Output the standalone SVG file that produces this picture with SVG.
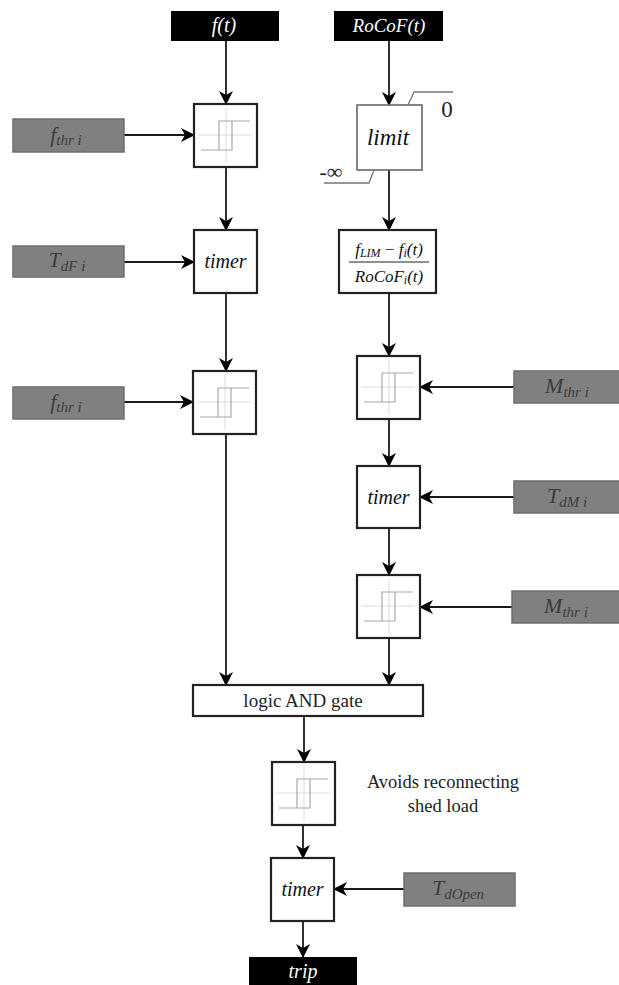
<svg xmlns="http://www.w3.org/2000/svg" width="619" height="985" viewBox="0 0 619 985">
  <defs>
    <style>
      .blk { fill: #000; }
      .blk-t { fill: #fff; font-style: italic; font-size: 20px; text-anchor: middle; }
      .inp { fill: #808080; stroke: #6e6e6e; stroke-width: 1.5; }
      .inp-t { fill: #3c3c3c; font-style: italic; font-size: 22px; text-anchor: middle; }
      .sub { font-size: 15px; }
      .blkbox { fill: #fff; stroke: #222; stroke-width: 2.2; }
      .thin { fill: #fff; stroke: #666; stroke-width: 1.6; }
      .lbl { fill: #111; font-style: italic; font-size: 20px; text-anchor: middle; }
      .plain { fill: #222; font-size: 19px; text-anchor: middle; }
      .ax { stroke: #dcdcdc; stroke-width: 1; fill: none; }
      .loop { stroke: #a8a8a8; stroke-width: 1.2; fill: none; }
      .wire { stroke: #1a1a1a; stroke-width: 1.8; fill: none; }
      .lim { stroke: #777; stroke-width: 1.3; fill: none; }
    </style>
    <marker id="arrow" viewBox="0 0 14 14" markerWidth="14" markerHeight="14" refX="13" refY="7" orient="auto" markerUnits="userSpaceOnUse">
      <path d="M0,0 L14,7 L0,14 L4,7 Z" fill="#000"/>
    </marker>
    <!-- hysteresis relay symbol, 63x63 box -->
    <g id="hyst">
      <rect class="blkbox" x="0" y="0" width="63" height="63"/>
      <line class="ax" x1="4" y1="31" x2="58" y2="31"/>
      <line class="ax" x1="32" y1="4" x2="32" y2="59"/>
      <polyline class="loop" points="7,46 38,46 38,17"/>
      <polyline class="loop" points="56,17 25,17 25,46"/>
    </g>
  </defs>

  <!-- connectors -->
  <g id="connectors">
    <line class="wire" x1="226" y1="41" x2="226" y2="104" marker-end="url(#arrow)"/>
    <line class="wire" x1="389" y1="41" x2="389" y2="105" marker-end="url(#arrow)"/>
    <line class="wire" x1="226" y1="167" x2="226" y2="230" marker-end="url(#arrow)"/>
    <line class="wire" x1="226" y1="293" x2="226" y2="371" marker-end="url(#arrow)"/>
    <line class="wire" x1="226" y1="434" x2="226" y2="685" marker-end="url(#arrow)"/>
    <line class="wire" x1="389" y1="170" x2="389" y2="230" marker-end="url(#arrow)"/>
    <line class="wire" x1="389" y1="293" x2="389" y2="356" marker-end="url(#arrow)"/>
    <line class="wire" x1="389" y1="418" x2="389" y2="466" marker-end="url(#arrow)"/>
    <line class="wire" x1="389" y1="528" x2="389" y2="575" marker-end="url(#arrow)"/>
    <line class="wire" x1="389" y1="638" x2="389" y2="685" marker-end="url(#arrow)"/>
    <line class="wire" x1="304" y1="716" x2="304" y2="762" marker-end="url(#arrow)"/>
    <line class="wire" x1="303" y1="825" x2="303" y2="858" marker-end="url(#arrow)"/>
    <line class="wire" x1="303" y1="921" x2="303" y2="957" marker-end="url(#arrow)"/>
    <line class="wire" x1="124" y1="135" x2="194" y2="135" marker-end="url(#arrow)"/>
    <line class="wire" x1="124" y1="262" x2="194" y2="262" marker-end="url(#arrow)"/>
    <line class="wire" x1="124" y1="402" x2="193" y2="402" marker-end="url(#arrow)"/>
    <line class="wire" x1="514" y1="387" x2="420" y2="387" marker-end="url(#arrow)"/>
    <line class="wire" x1="514" y1="497" x2="420" y2="497" marker-end="url(#arrow)"/>
    <line class="wire" x1="512" y1="607" x2="420" y2="607" marker-end="url(#arrow)"/>
    <line class="wire" x1="404" y1="889" x2="334" y2="889" marker-end="url(#arrow)"/>
  </g>

  <g font-family="Liberation Serif, serif">
  <!-- signal sources -->
  <g id="f-t">
    <rect class="blk" x="171" y="11" width="108" height="30"/>
    <text class="blk-t" x="224" y="32" font-family="Liberation Serif, serif">f(t)</text>
  </g>
  <g id="rocof-t">
    <rect class="blk" x="334" y="11" width="109" height="30"/>
    <text class="blk-t" x="389" y="32" style="font-size:19px" font-family="Liberation Serif, serif">RoCoF(t)</text>
  </g>

  <!-- frequency branch -->
  <g id="hyst-f1"><use href="#hyst" x="194" y="104"/></g>
  <g id="fthr-1">
    <rect class="inp" x="13" y="119" width="111" height="33"/>
    <text class="inp-t" x="66" y="142" font-family="Liberation Serif, serif">f<tspan class="sub" dy="3">thr i</tspan></text>
  </g>
  <g id="timer-f">
    <rect class="blkbox" x="194" y="230" width="63" height="63"/>
    <text class="lbl" x="225.5" y="268" font-family="Liberation Serif, serif">timer</text>
  </g>
  <g id="tdf">
    <rect class="inp" x="13" y="246" width="111" height="31"/>
    <text class="inp-t" x="67" y="267" font-family="Liberation Serif, serif">T<tspan class="sub" dy="4">dF i</tspan></text>
  </g>
  <g id="hyst-f2"><use href="#hyst" x="193" y="371"/></g>
  <g id="fthr-2">
    <rect class="inp" x="13" y="387" width="111" height="32"/>
    <text class="inp-t" x="66" y="409" font-family="Liberation Serif, serif">f<tspan class="sub" dy="3">thr i</tspan></text>
  </g>

  <!-- RoCoF branch -->
  <g id="limit">
    <rect class="thin" x="357" y="105" width="65" height="65"/>
    <text class="lbl" x="388" y="145" style="font-size:23px" font-family="Liberation Serif, serif">limit</text>
    <polyline class="lim" points="408,105 414,92 453,92"/>
    <text x="447" y="117" font-size="23" fill="#222" text-anchor="middle" font-family="Liberation Serif, serif">0</text>
    <polyline class="lim" points="374,170 369,183 324,183"/>
    <text x="331" y="179" font-size="22" fill="#222" text-anchor="middle" font-family="Liberation Serif, serif">-∞</text>
  </g>
  <g id="time-to-limit">
    <rect class="blkbox" x="339" y="230" width="97" height="63"/>
    <text class="lbl" x="389" y="255" style="font-size:17px" font-family="Liberation Serif, serif">f<tspan font-size="12" dy="2">LIM</tspan><tspan dy="-2" font-style="normal"> − </tspan>f<tspan font-size="12" dy="2">i</tspan><tspan dy="-2">(t)</tspan></text>
    <line x1="349" y1="262" x2="429" y2="262" stroke="#222" stroke-width="1.2"/>
    <text class="lbl" x="389" y="282" style="font-size:17px" font-family="Liberation Serif, serif">RoCoF<tspan font-size="12" dy="2">i</tspan><tspan dy="-2">(t)</tspan></text>
  </g>
  <g id="hyst-m1"><use href="#hyst" x="357" y="356"/></g>
  <g id="mthr-1">
    <rect class="inp" x="514" y="371" width="108" height="32"/>
    <text class="inp-t" x="567" y="393" font-family="Liberation Serif, serif">M<tspan class="sub" dy="4">thr i</tspan></text>
  </g>
  <g id="timer-m">
    <rect class="blkbox" x="357" y="466" width="63" height="62"/>
    <text class="lbl" x="388.5" y="504" font-family="Liberation Serif, serif">timer</text>
  </g>
  <g id="tdm">
    <rect class="inp" x="514" y="481" width="108" height="32"/>
    <text class="inp-t" x="567" y="503" font-family="Liberation Serif, serif">T<tspan class="sub" dy="4">dM i</tspan></text>
  </g>
  <g id="hyst-m2"><use href="#hyst" x="357" y="575"/></g>
  <g id="mthr-2">
    <rect class="inp" x="512" y="591" width="110" height="32"/>
    <text class="inp-t" x="566" y="613" font-family="Liberation Serif, serif">M<tspan class="sub" dy="4">thr i</tspan></text>
  </g>

  <!-- combination and output -->
  <g id="and-gate">
    <rect class="blkbox" x="193" y="685" width="230" height="31"/>
    <text class="plain" x="303" y="707" font-family="Liberation Serif, serif">logic AND gate</text>
  </g>
  <g id="hyst-out"><use href="#hyst" x="272" y="762"/></g>
  <g id="note">
    <text class="plain" x="443" y="788" style="font-size:18.5px" font-family="Liberation Serif, serif">Avoids reconnecting</text>
    <text class="plain" x="443" y="812" style="font-size:18.5px" font-family="Liberation Serif, serif">shed load</text>
  </g>
  <g id="timer-open">
    <rect class="blkbox" x="271" y="858" width="63" height="63"/>
    <text class="lbl" x="302.5" y="896" font-family="Liberation Serif, serif">timer</text>
  </g>
  <g id="tdopen">
    <rect class="inp" x="404" y="873" width="111" height="33"/>
    <text class="inp-t" x="458" y="895" font-family="Liberation Serif, serif">T<tspan class="sub" dy="4">dOpen</tspan></text>
  </g>
  <g id="trip">
    <rect class="blk" x="249" y="957" width="108" height="30"/>
    <text class="blk-t" x="303" y="978" font-family="Liberation Serif, serif">trip</text>
  </g>
  </g>
</svg>
